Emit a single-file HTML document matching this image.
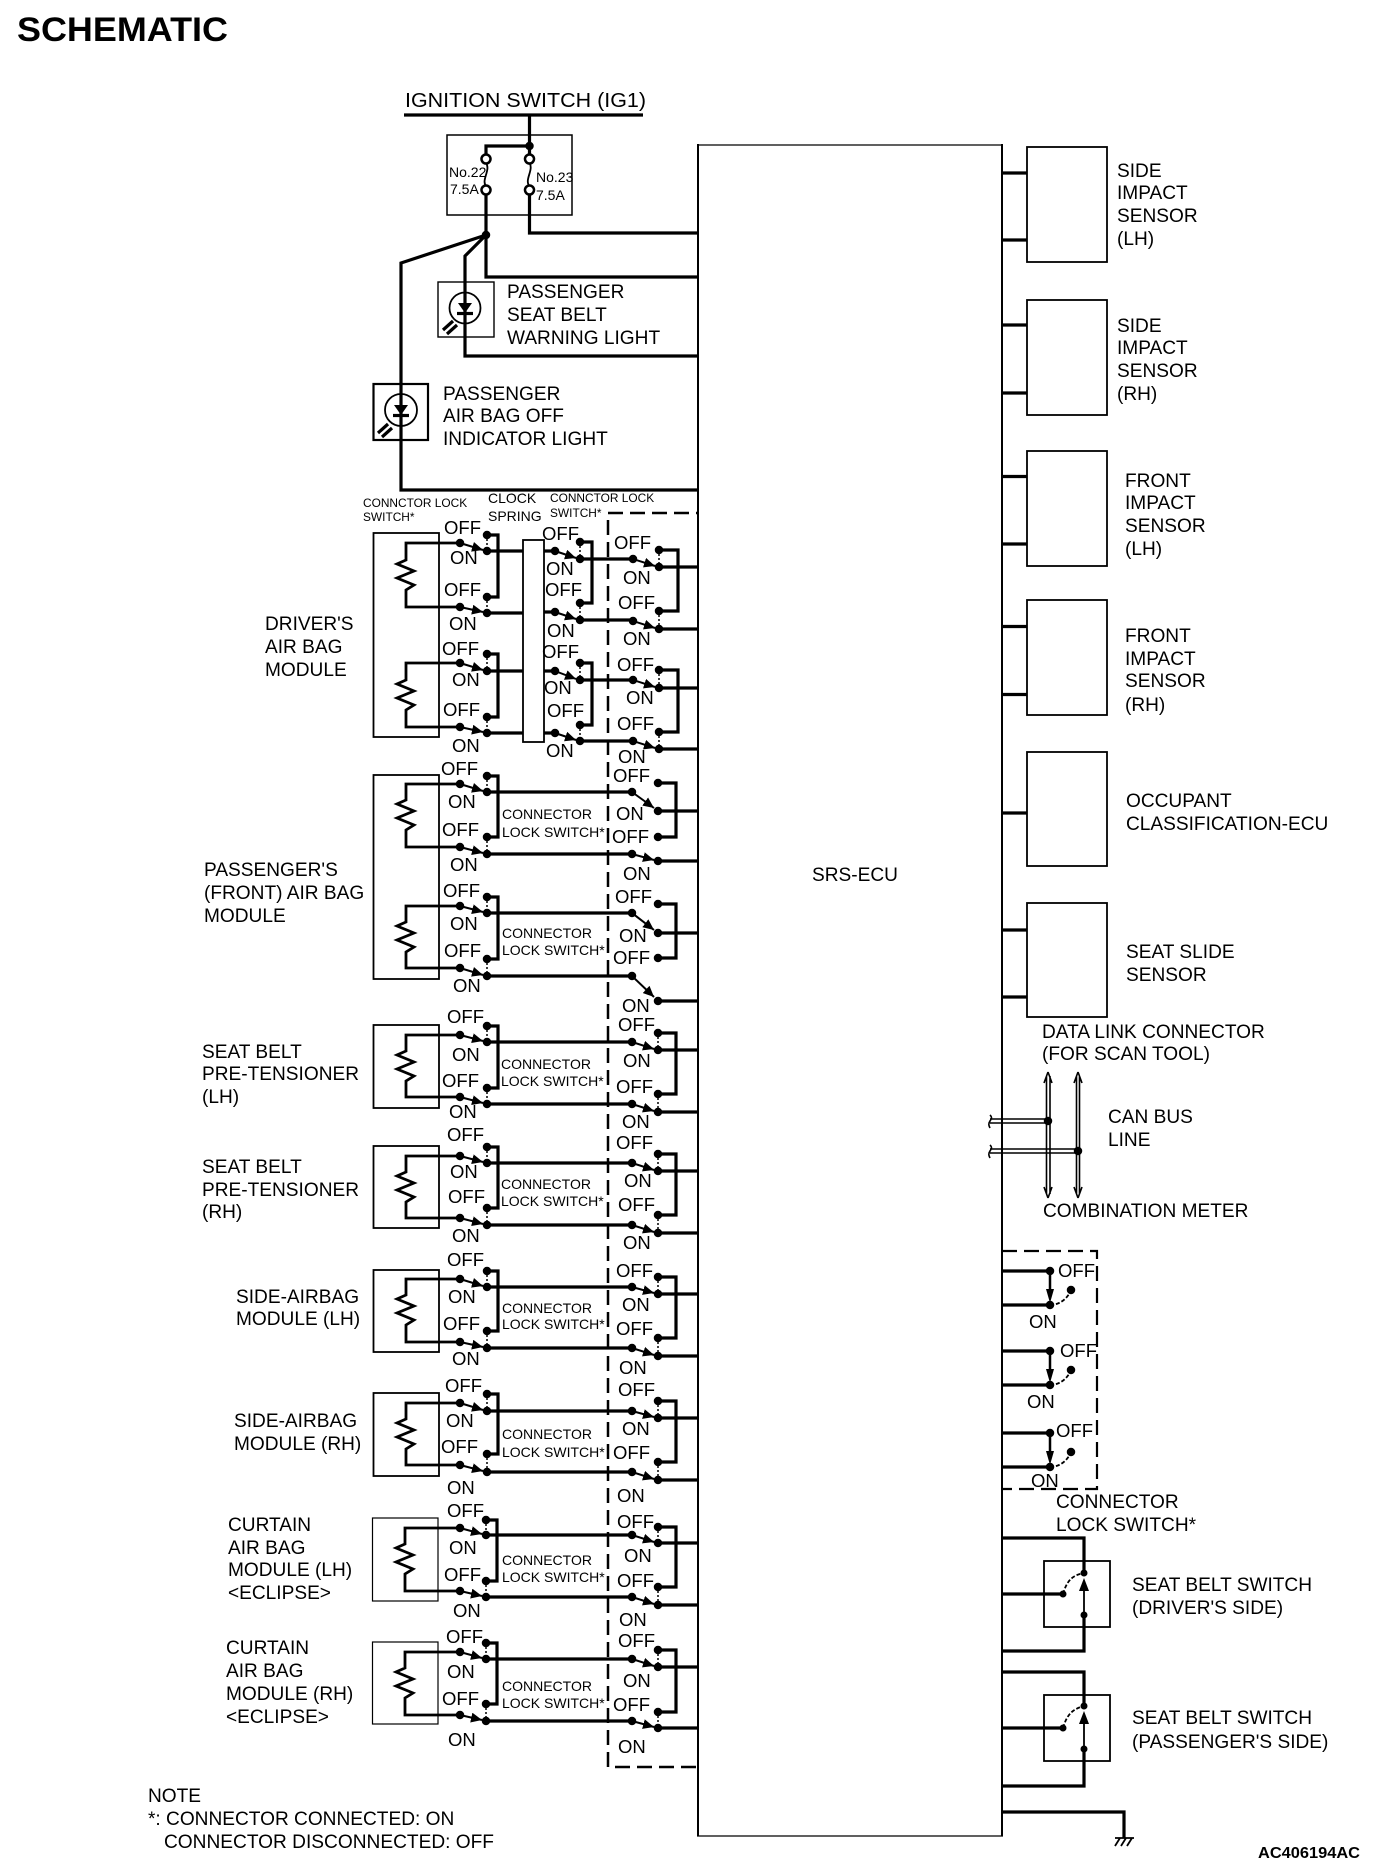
<!DOCTYPE html>
<html><head><meta charset="utf-8"><title>Schematic</title>
<style>
html,body{margin:0;padding:0;background:#fff}
svg{display:block}
text{font-family:"Liberation Sans",sans-serif;fill:#000;font-size:19.1px}
.s{font-size:18.5px}
.c{font-size:14px}
.m{font-size:11.9px}
.w,.t,.b,.r,.a,.d,.k,.z{fill:none;stroke:#000}
.w{stroke-width:3.2}
.t{stroke-width:1.8}
.b{stroke-width:2.2}
.r{stroke-width:2}
.a{stroke-width:2}
.d{stroke-width:8.5;stroke-linecap:round}
.k{stroke-width:1.5;stroke-dasharray:2 2}
.z{stroke-width:2.5;stroke-dasharray:15 7}
</style></head><body>
<svg xmlns="http://www.w3.org/2000/svg" width="1392" height="1876" viewBox="0 0 1392 1876">
<defs>
<marker id="h" markerUnits="userSpaceOnUse" markerWidth="12" markerHeight="10" refX="11" refY="5" orient="auto"><path d="M0 0L11 5L0 10z" fill="#000"/></marker>
</defs>
<rect width="1392" height="1876" fill="#fff"/>

<text x="17" y="41" style="font-size:34px;font-weight:bold" textLength="211" lengthAdjust="spacingAndGlyphs">SCHEMATIC</text>

<!-- ECU -->
<path class="r" d="M698 144V1836M1002 144V1836"/>
<path class="r" style="stroke-width:1.2" d="M697 145H1003M697 1836H1003"/>
<text x="812" y="881">SRS-ECU</text>

<!-- Top power -->
<text x="405" y="107" textLength="241" lengthAdjust="spacingAndGlyphs" style="font-size:20px">IGNITION SWITCH (IG1)</text>
<path class="w" d="M404 115H643M529.500 115V146H486V155M529.500 146V155M486 194V277H698M529.500 194V233H698M486 235L465 256V356H698M486 235L401 263V490H698"/>
<rect class="t" style="stroke-width:1.500" x="447" y="135" width="125" height="80"/>
<path class="t" d="M486 163C491 170 481 180 486 186M529.500 163C534 170 524 180 529.500 186"/>
<path class="d" d="M529.500 146h0M486 235h0"/>
<g fill="#fff" stroke="#000" stroke-width="2.500"><circle cx="486" cy="159" r="4.500"/><circle cx="486" cy="190" r="4.500"/><circle cx="529.500" cy="159" r="4.500"/><circle cx="529.500" cy="190" r="4.500"/></g>
<text class="c" x="449" y="177">No.22</text><text class="c" x="450" y="194">7.5A</text>
<text class="c" x="536" y="182">No.23</text><text class="c" x="536" y="200">7.5A</text>

<rect class="t" style="stroke-width:1.400" x="438" y="282" width="56" height="55"/>
<circle class="t" cx="465" cy="308" r="15.500"/>
<path d="M458 303H472L465 313z" fill="#000"/><path class="w" d="M457 313.500H473"/>
<path class="w" d="M443 330l10-9M447 334l10-9"/>
<rect class="b" x="373.500" y="384" width="54.500" height="56"/>
<circle class="t" cx="401" cy="410" r="16"/>
<path d="M394 405H408L401 415z" fill="#000"/><path class="w" d="M393 415.500H409"/>
<path class="w" d="M378 433l10-9M382 437l10-9"/>
<text x="507" y="298">PASSENGER</text><text x="507" y="321">SEAT BELT</text><text x="507" y="344">WARNING LIGHT</text>
<text x="443" y="400">PASSENGER</text><text x="443" y="422">AIR BAG OFF</text><text x="443" y="445">INDICATOR LIGHT</text>

<!-- Header labels -->
<text class="m" x="363" y="507">CONNCTOR LOCK</text><text class="m" x="363" y="521">SWITCH*</text>
<text class="c" x="488" y="503">CLOCK</text><text class="c" x="488" y="521">SPRING</text>
<text class="m" x="550" y="502">CONNCTOR LOCK</text><text class="m" x="550" y="517">SWITCH*</text>

<!-- Dashed connector lock region -->
<path class="z" d="M608 513H698M608 520V1767H698"/>

<!-- Module boxes -->
<rect class="t" x="373.500" y="533" width="65.500" height="204"/>
<rect class="t" x="373.500" y="775" width="65.500" height="204"/>
<rect class="t" x="373.500" y="1025" width="65.500" height="83"/>
<rect class="t" x="373.500" y="1146" width="65.500" height="82"/>
<rect class="t" x="373.500" y="1270" width="65.500" height="82"/>
<rect class="t" x="373.500" y="1393" width="65.500" height="83"/>
<rect class="t" style="stroke-width:1.200" x="372.500" y="1518" width="65.500" height="83"/>
<rect class="t" style="stroke-width:1.200" x="372.500" y="1642" width="65.500" height="82"/>

<!-- Resistor wires -->
<path class="w" style="stroke-width:2.8" d="M460 543H406V560l-9 4 17 7-17 7 17 7-8 5V607H460
M460 663H406V680l-9 4 17 7-17 7 17 7-8 5V727H460
M460 784H406V800l-9 4 17 7-17 7 17 7-8 5V847H460
M460 906H406V922l-9 4 17 7-17 7 17 7-8 5V968H460
M460 1035H406V1051l-9 4 17 7-17 7 17 7-8 5V1097H460
M460 1156H406V1172l-9 4 17 7-17 7 17 7-8 5V1218H460
M460 1279H406V1295l-9 4 17 7-17 7 17 7-8 5V1342H460
M460 1403H406V1419l-9 4 17 7-17 7 17 7-8 5V1465H460
M460 1528H405V1544l-9 4 17 7-17 7 17 7-8 5V1591H460
M460 1652H405V1668l-9 4 17 7-17 7 17 7-8 5V1715H460"/>

<!-- Wires -->
<path class="w" d="M487 535H498V597H487M487 654H498V717H487
M487 551H523M487 613H523M487 671H523M487 733H523
M544 551H555M544 612H555M544 671H555M544 733H555
M580 542H592V603H580M580 663H592V725H580
M580 559H633M580 620H633M580 680H633M580 741H633
M659 550H678V611H659M659 670H678V732H659
M659 567H698M659 629H698M659 688H698M659 749H698
M487 776H498V837H487M487 897H498V959H487
M487 792H632M487 854H632M487 913H632M487 976H632
M658 783H676V837H658M658 904H676V958H658
M658 811H698M658 861H698M658 933H698M658 1001H698
M487 1026H498V1088H487M487 1042H632M487 1104H632M658 1033H676V1094H658M658 1050H698M658 1112H698
M487 1147H498V1208H487M487 1163H632M487 1225H632M658 1154H676V1215H658M658 1171H698M658 1233H698
M487 1271H498V1331H487M487 1287H632M487 1348H632M658 1277H676V1338H658M658 1294H698M658 1356H698
M487 1394H498V1454H487M487 1411H632M487 1472H632M658 1401H676V1462H658M658 1418H698M658 1480H698
M486 1520H497V1581H486M486 1535H632M486 1597H632M658 1527H676V1587H658M658 1543H698M658 1605H698
M486 1643H497V1704H486M486 1659H632M486 1721H632M658 1650H676V1712H658M658 1667H698M658 1728H698"/>

<rect x="523" y="540" width="21" height="202" fill="#fff" stroke="#000" stroke-width="1.800"/>

<!-- Off/on dashed links -->
<path class="k" d="M487 535V551M487 597V613M487 654V671M487 717V733M580 542V559M580 603V620M580 663V680M580 725V741M659 550V567M659 611V629M659 670V688M659 732V749
M487 776V792M487 837V854M487 897V913M487 959V976
M487 1026V1042M487 1088V1104M658 1033V1050M658 1094V1112
M487 1147V1163M487 1208V1225M658 1154V1171M658 1215V1233
M487 1271V1287M487 1331V1348M658 1277V1294M658 1338V1356
M487 1394V1411M487 1454V1472M658 1401V1418M658 1462V1480
M486 1520V1535M486 1581V1597M658 1527V1543M658 1587V1605
M486 1643V1659M486 1704V1721M658 1650V1667M658 1712V1728"/>

<!-- Switch arms -->
<g>
<path class="a" marker-end="url(#h)" d="M460 543L483 550"/><path class="a" marker-end="url(#h)" d="M460 607L483 612"/><path class="a" marker-end="url(#h)" d="M460 663L483 670"/><path class="a" marker-end="url(#h)" d="M460 727L483 732"/>
<path class="a" marker-end="url(#h)" d="M555 551L576 558"/><path class="a" marker-end="url(#h)" d="M555 612L576 619"/><path class="a" marker-end="url(#h)" d="M555 671L576 679"/><path class="a" marker-end="url(#h)" d="M555 733L576 740"/>
<path class="a" marker-end="url(#h)" d="M633 559L655 566"/><path class="a" marker-end="url(#h)" d="M633 621L655 628"/><path class="a" marker-end="url(#h)" d="M633 680L655 687"/><path class="a" marker-end="url(#h)" d="M633 741L655 748"/>
<path class="a" marker-end="url(#h)" d="M460 784L483 791"/><path class="a" marker-end="url(#h)" d="M460 847L483 853"/><path class="a" marker-end="url(#h)" d="M460 906L483 912"/><path class="a" marker-end="url(#h)" d="M460 968L483 975"/>
<path class="a" marker-end="url(#h)" d="M632 792L654 808"/><path class="a" marker-end="url(#h)" d="M632 854L654 860"/><path class="a" marker-end="url(#h)" d="M632 913L654 930"/><path class="a" marker-end="url(#h)" d="M632 976L654 997"/>
<path class="a" marker-end="url(#h)" d="M460 1035L483 1041"/><path class="a" marker-end="url(#h)" d="M460 1097L483 1103"/><path class="a" marker-end="url(#h)" d="M632 1042L654 1049"/><path class="a" marker-end="url(#h)" d="M632 1104L654 1111"/>
<path class="a" marker-end="url(#h)" d="M460 1156L483 1162"/><path class="a" marker-end="url(#h)" d="M460 1218L483 1224"/><path class="a" marker-end="url(#h)" d="M632 1163L654 1170"/><path class="a" marker-end="url(#h)" d="M632 1225L654 1232"/>
<path class="a" marker-end="url(#h)" d="M460 1279L483 1286"/><path class="a" marker-end="url(#h)" d="M460 1342L483 1347"/><path class="a" marker-end="url(#h)" d="M632 1287L654 1293"/><path class="a" marker-end="url(#h)" d="M632 1348L654 1355"/>
<path class="a" marker-end="url(#h)" d="M460 1403L483 1410"/><path class="a" marker-end="url(#h)" d="M460 1465L483 1471"/><path class="a" marker-end="url(#h)" d="M632 1411L654 1417"/><path class="a" marker-end="url(#h)" d="M632 1472L654 1479"/>
<path class="a" marker-end="url(#h)" d="M460 1528L482 1534"/><path class="a" marker-end="url(#h)" d="M460 1591L482 1596"/><path class="a" marker-end="url(#h)" d="M632 1535L654 1542"/><path class="a" marker-end="url(#h)" d="M632 1597L654 1604"/>
<path class="a" marker-end="url(#h)" d="M460 1652L482 1658"/><path class="a" marker-end="url(#h)" d="M460 1715L482 1720"/><path class="a" marker-end="url(#h)" d="M632 1659L654 1666"/><path class="a" marker-end="url(#h)" d="M632 1721L654 1727"/>
</g>

<!-- Dots -->
<path class="d" d="M460 543h0M460 607h0M460 663h0M460 727h0M487 535h0M487 551h0M487 597h0M487 613h0M487 654h0M487 671h0M487 717h0M487 733h0
M555 551h0M555 612h0M555 671h0M555 733h0M580 542h0M580 559h0M580 603h0M580 620h0M580 663h0M580 680h0M580 725h0M580 741h0
M633 559h0M633 621h0M633 680h0M633 741h0M659 550h0M659 567h0M659 611h0M659 629h0M659 670h0M659 688h0M659 732h0M659 749h0
M460 784h0M460 847h0M460 906h0M460 968h0M487 776h0M487 792h0M487 837h0M487 854h0M487 897h0M487 913h0M487 959h0M487 976h0
M632 792h0M632 854h0M632 913h0M632 976h0M658 783h0M658 811h0M658 837h0M658 861h0M658 904h0M658 933h0M658 958h0M658 1001h0
M460 1035h0M460 1097h0M487 1026h0M487 1042h0M487 1088h0M487 1104h0M632 1042h0M632 1104h0M658 1033h0M658 1050h0M658 1094h0M658 1112h0
M460 1156h0M460 1218h0M487 1147h0M487 1163h0M487 1208h0M487 1225h0M632 1163h0M632 1225h0M658 1154h0M658 1171h0M658 1215h0M658 1233h0
M460 1279h0M460 1342h0M487 1271h0M487 1287h0M487 1331h0M487 1348h0M632 1287h0M632 1348h0M658 1277h0M658 1294h0M658 1338h0M658 1356h0
M460 1403h0M460 1465h0M487 1394h0M487 1411h0M487 1454h0M487 1472h0M632 1411h0M632 1472h0M658 1401h0M658 1418h0M658 1462h0M658 1480h0
M460 1528h0M460 1591h0M486 1520h0M486 1535h0M486 1581h0M486 1597h0M632 1535h0M632 1597h0M658 1527h0M658 1543h0M658 1587h0M658 1605h0
M460 1652h0M460 1715h0M486 1643h0M486 1659h0M486 1704h0M486 1721h0M632 1659h0M632 1721h0M658 1650h0M658 1667h0M658 1712h0M658 1728h0"/>

<!-- OFF / ON labels -->
<g>
<text class="s" x="444" y="534">OFF</text><text class="s" x="450" y="564">ON</text><text class="s" x="444" y="596">OFF</text><text class="s" x="449" y="630">ON</text><text class="s" x="442" y="655">OFF</text><text class="s" x="452" y="686">ON</text><text class="s" x="443" y="716">OFF</text><text class="s" x="452" y="752">ON</text>
<text class="s" x="542" y="540">OFF</text><text class="s" x="546" y="575">ON</text><text class="s" x="545" y="596">OFF</text><text class="s" x="547" y="637">ON</text><text class="s" x="542" y="658">OFF</text><text class="s" x="544" y="694">ON</text><text class="s" x="547" y="717">OFF</text><text class="s" x="546" y="757">ON</text>
<text class="s" x="614" y="549">OFF</text><text class="s" x="623" y="584">ON</text><text class="s" x="618" y="609">OFF</text><text class="s" x="623" y="645">ON</text><text class="s" x="617" y="671">OFF</text><text class="s" x="626" y="704">ON</text><text class="s" x="617" y="730">OFF</text><text class="s" x="618" y="763">ON</text>
<text class="s" x="441" y="775">OFF</text><text class="s" x="448" y="808">ON</text><text class="s" x="442" y="836">OFF</text><text class="s" x="450" y="871">ON</text><text class="s" x="443" y="897">OFF</text><text class="s" x="450" y="930">ON</text><text class="s" x="444" y="957">OFF</text><text class="s" x="453" y="992">ON</text>
<text class="s" x="613" y="782">OFF</text><text class="s" x="616" y="820">ON</text><text class="s" x="612" y="843">OFF</text><text class="s" x="623" y="880">ON</text><text class="s" x="615" y="903">OFF</text><text class="s" x="619" y="942">ON</text><text class="s" x="613" y="964">OFF</text><text class="s" x="622" y="1012">ON</text>
<text class="s" x="447" y="1023">OFF</text><text class="s" x="452" y="1061">ON</text><text class="s" x="442" y="1087">OFF</text><text class="s" x="449" y="1118">ON</text>
<text class="s" x="618" y="1031">OFF</text><text class="s" x="623" y="1067">ON</text><text class="s" x="616" y="1093">OFF</text><text class="s" x="622" y="1128">ON</text>
<text class="s" x="447" y="1141">OFF</text><text class="s" x="450" y="1178">ON</text><text class="s" x="448" y="1203">OFF</text><text class="s" x="452" y="1242">ON</text>
<text class="s" x="616" y="1149">OFF</text><text class="s" x="624" y="1187">ON</text><text class="s" x="618" y="1211">OFF</text><text class="s" x="623" y="1249">ON</text>
<text class="s" x="447" y="1266">OFF</text><text class="s" x="448" y="1303">ON</text><text class="s" x="443" y="1330">OFF</text><text class="s" x="452" y="1365">ON</text>
<text class="s" x="616" y="1277">OFF</text><text class="s" x="622" y="1311">ON</text><text class="s" x="616" y="1335">OFF</text><text class="s" x="619" y="1374">ON</text>
<text class="s" x="445" y="1392">OFF</text><text class="s" x="446" y="1427">ON</text><text class="s" x="441" y="1453">OFF</text><text class="s" x="447" y="1494">ON</text>
<text class="s" x="618" y="1396">OFF</text><text class="s" x="622" y="1435">ON</text><text class="s" x="613" y="1459">OFF</text><text class="s" x="617" y="1502">ON</text>
<text class="s" x="447" y="1517">OFF</text><text class="s" x="449" y="1554">ON</text><text class="s" x="444" y="1581">OFF</text><text class="s" x="453" y="1617">ON</text>
<text class="s" x="617" y="1528">OFF</text><text class="s" x="624" y="1562">ON</text><text class="s" x="617" y="1587">OFF</text><text class="s" x="619" y="1626">ON</text>
<text class="s" x="446" y="1643">OFF</text><text class="s" x="447" y="1678">ON</text><text class="s" x="442" y="1705">OFF</text><text class="s" x="448" y="1746">ON</text>
<text class="s" x="618" y="1647">OFF</text><text class="s" x="623" y="1687">ON</text><text class="s" x="613" y="1711">OFF</text><text class="s" x="618" y="1753">ON</text>
</g>

<!-- Connector lock switch labels -->
<text class="c" x="502" y="819">CONNECTOR</text><text class="c" x="502" y="837">LOCK SWITCH*</text>
<text class="c" x="502" y="938">CONNECTOR</text><text class="c" x="502" y="955">LOCK SWITCH*</text>
<text class="c" x="501" y="1069">CONNECTOR</text><text class="c" x="501" y="1086">LOCK SWITCH*</text>
<text class="c" x="501" y="1189">CONNECTOR</text><text class="c" x="501" y="1206">LOCK SWITCH*</text>
<text class="c" x="502" y="1313">CONNECTOR</text><text class="c" x="502" y="1329">LOCK SWITCH*</text>
<text class="c" x="502" y="1439">CONNECTOR</text><text class="c" x="502" y="1457">LOCK SWITCH*</text>
<text class="c" x="502" y="1565">CONNECTOR</text><text class="c" x="502" y="1582">LOCK SWITCH*</text>
<text class="c" x="502" y="1691">CONNECTOR</text><text class="c" x="502" y="1708">LOCK SWITCH*</text>

<!-- Left labels -->
<text x="265" y="630">DRIVER'S</text><text x="265" y="653">AIR BAG</text><text x="265" y="676">MODULE</text>
<text x="204" y="876">PASSENGER'S</text><text x="204" y="899">(FRONT) AIR BAG</text><text x="204" y="922">MODULE</text>
<text x="202" y="1058">SEAT BELT</text><text x="202" y="1080">PRE-TENSIONER</text><text x="202" y="1103">(LH)</text>
<text x="202" y="1173">SEAT BELT</text><text x="202" y="1196">PRE-TENSIONER</text><text x="202" y="1218">(RH)</text>
<text x="236" y="1303">SIDE-AIRBAG</text><text x="236" y="1325">MODULE (LH)</text>
<text x="234" y="1427">SIDE-AIRBAG</text><text x="234" y="1450">MODULE (RH)</text>
<text x="228" y="1531">CURTAIN</text><text x="228" y="1554">AIR BAG</text><text x="228" y="1576">MODULE (LH)</text><text x="228" y="1599">&lt;ECLIPSE&gt;</text>
<text x="226" y="1654">CURTAIN</text><text x="226" y="1677">AIR BAG</text><text x="226" y="1700">MODULE (RH)</text><text x="226" y="1723">&lt;ECLIPSE&gt;</text>

<!-- Right sensors -->
<rect class="t" x="1027" y="147" width="80" height="115"/>
<rect class="t" x="1027" y="300" width="80" height="115"/>
<rect class="t" x="1027" y="451" width="80" height="115"/>
<rect class="t" x="1027" y="600" width="80" height="115"/>
<rect class="t" x="1027" y="752" width="80" height="114"/>
<rect class="t" x="1027" y="903" width="80" height="114"/>
<path class="w" d="M1001 173H1027M1001 240H1027M1001 325H1027M1001 393H1027M1001 476.500H1027M1001 544H1027M1001 626.500H1027M1001 694.500H1027M1001 813H1027M1001 930H1027M1001 997H1027"/>
<text x="1117" y="177">SIDE</text><text x="1117" y="199">IMPACT</text><text x="1117" y="222">SENSOR</text><text x="1117" y="245">(LH)</text>
<text x="1117" y="332">SIDE</text><text x="1117" y="354">IMPACT</text><text x="1117" y="377">SENSOR</text><text x="1117" y="400">(RH)</text>
<text x="1125" y="487">FRONT</text><text x="1125" y="509">IMPACT</text><text x="1125" y="532">SENSOR</text><text x="1125" y="555">(LH)</text>
<text x="1125" y="642">FRONT</text><text x="1125" y="665">IMPACT</text><text x="1125" y="687">SENSOR</text><text x="1125" y="711">(RH)</text>
<text x="1126" y="807">OCCUPANT</text><text x="1126" y="830">CLASSIFICATION-ECU</text>
<text x="1126" y="958">SEAT SLIDE</text><text x="1126" y="981">SENSOR</text>

<!-- CAN -->
<text x="1042" y="1038">DATA LINK CONNECTOR</text><text x="1042" y="1060">(FOR SCAN TOOL)</text>
<text x="1108" y="1123">CAN BUS</text><text x="1108" y="1146">LINE</text>
<text x="1043" y="1217">COMBINATION METER</text>
<path class="t" style="stroke-width:1.600" d="M1046.500 1076V1194M1050 1076V1194M1048 1072l-4 11M1048 1072l4 11M1048 1198l-4-11M1048 1198l4-11
M1076.500 1076V1194M1079.500 1076V1194M1078 1072l-4 11M1078 1072l4 11M1078 1198l-4-11M1078 1198l4-11
M990 1119H1048M990 1123H1048M990 1149H1078M990 1153H1078
M990 1115c2 2 2 3 0 6c-2 3-1 5 0 7M990 1145c2 2 2 3 0 6c-2 3-1 5 0 7"/>
<path class="d" d="M1048 1121h0M1078 1151h0"/>

<!-- Connector lock switches (right) -->
<path class="z" style="stroke-width:2.200" d="M1002 1251H1097V1489H1002"/>
<path class="w" d="M1002 1271H1050M1002 1305H1050M1002 1351H1050M1002 1385H1050M1002 1433H1050M1002 1467H1050"/>
<path class="t" style="stroke-width:2.500" d="M1050 1271V1295M1050 1351V1375M1050 1433V1457"/>
<path d="M1050 1303l-4-14h8zM1050 1383l-4-14h8zM1050 1465l-4-14h8z" fill="#000"/>
<path class="t" style="stroke-dasharray:4 2" d="M1050 1305C1060 1305 1068 1298 1071 1290M1050 1385C1060 1385 1068 1378 1071 1370M1050 1467C1060 1467 1068 1460 1071 1452"/>
<path class="d" d="M1050 1271h0M1050 1305h0M1071 1290h0M1050 1351h0M1050 1385h0M1071 1370h0M1050 1433h0M1050 1467h0M1071 1452h0"/>
<text class="s" x="1058" y="1277">OFF</text><text class="s" x="1029" y="1328">ON</text>
<text class="s" x="1060" y="1357">OFF</text><text class="s" x="1027" y="1408">ON</text>
<text class="s" x="1056" y="1437">OFF</text><text class="s" x="1031" y="1487">ON</text>
<text x="1056" y="1508">CONNECTOR</text><text x="1056" y="1531">LOCK SWITCH*</text>

<!-- Seat belt switches -->
<rect class="t" x="1044" y="1561" width="66" height="66"/>
<rect class="t" x="1044" y="1695" width="66" height="66"/>
<path class="w" d="M1002 1538H1084V1573M1084 1615V1651H1002M1002 1594H1063M1002 1672H1084V1706M1084 1749V1786H1002M1002 1728H1063"/>
<path class="t" d="M1084 1615V1585M1084 1749V1718"/>
<path d="M1084 1578l-5 13h10zM1084 1711l-5 13h10z" fill="#000"/>
<path class="t" style="stroke-dasharray:4 2" d="M1063 1594C1067 1580 1073 1575 1084 1573M1063 1728C1067 1714 1073 1709 1084 1706"/>
<path class="d" style="stroke-width:7" d="M1084 1573h0M1084 1615h0M1063 1594h0M1084 1706h0M1084 1749h0M1063 1728h0"/>
<text x="1132" y="1591">SEAT BELT SWITCH</text><text x="1132" y="1614">(DRIVER'S SIDE)</text>
<text x="1132" y="1724">SEAT BELT SWITCH</text><text x="1132" y="1748">(PASSENGER'S SIDE)</text>

<!-- Ground -->
<path class="w" d="M1002 1812H1124V1838"/>
<path class="t" d="M1115 1838H1134M1120 1838l-5 8M1126 1838l-5 8M1132 1838l-5 8"/>

<!-- Note -->
<text x="148" y="1802">NOTE</text>
<text x="148" y="1825">*: CONNECTOR CONNECTED: ON</text>
<text x="164" y="1848" textLength="330" lengthAdjust="spacingAndGlyphs">CONNECTOR DISCONNECTED: OFF</text>
<text x="1258" y="1858" style="font-size:16px;font-weight:bold" textLength="102" lengthAdjust="spacingAndGlyphs">AC406194AC</text>
</svg>
</body></html>
